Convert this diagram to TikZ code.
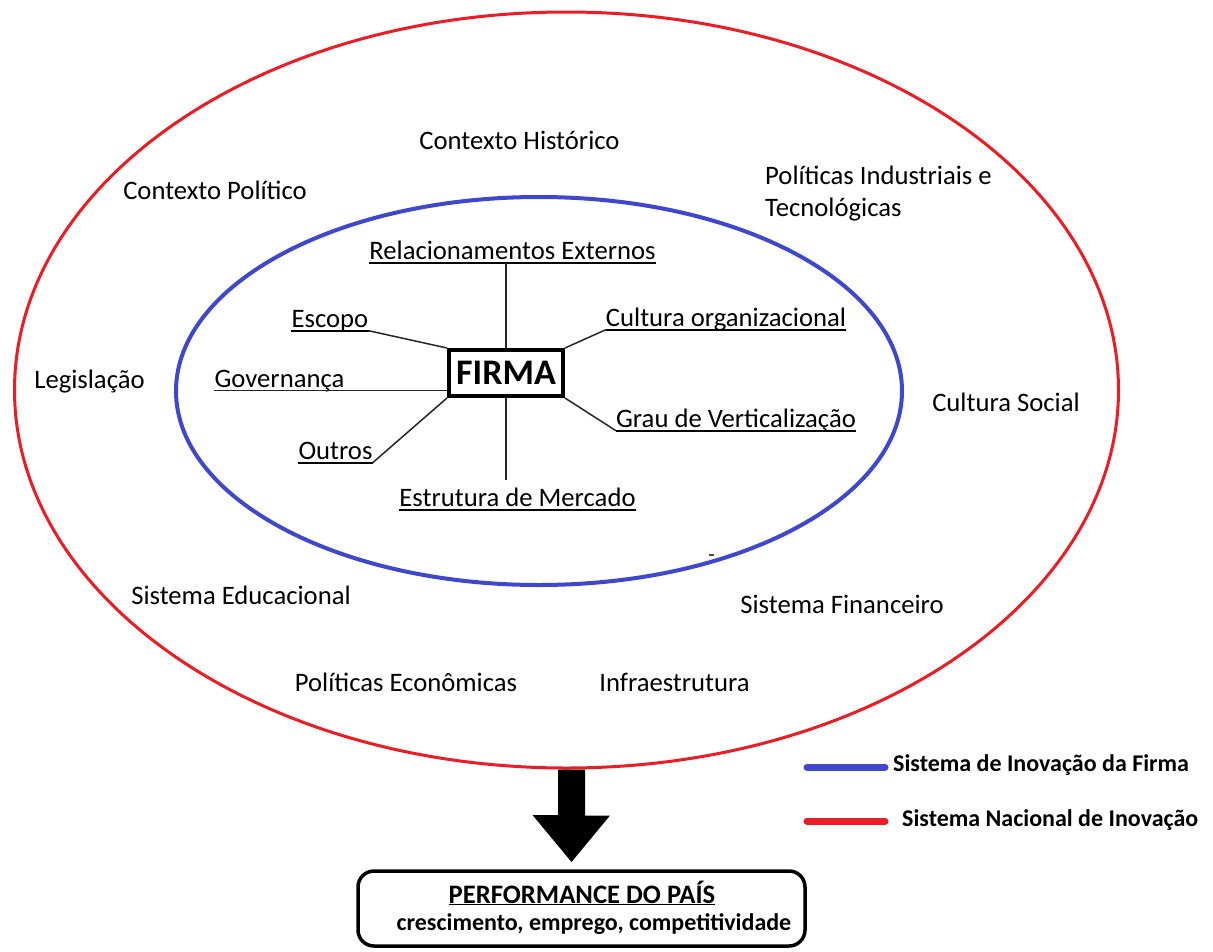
\documentclass[tikz,border=0pt]{standalone}
\usepackage{fontspec}
\setmainfont{Carlito}
\usetikzlibrary{shapes.geometric,calc}
\definecolor{redc}{RGB}{237,28,36}
\definecolor{bluec}{RGB}{63,72,204}
\tikzset{
  lbl/.style={inner sep=0pt, text height=17pt, text depth=0pt, font=\fontsize{26.67}{32}\selectfont},
  ullbl/.style={lbl},
  conn/.style={draw=black!85, line width=1.5pt},
  ulline/.style={draw=black, line width=1.6pt},
  ring/.style={ellipse, draw, inner sep=0pt},
  legtxt/.style={inner sep=0pt, anchor=west, font=\fontsize{24}{28}\selectfont\bfseries},
  legline/.style={line width=7pt, line cap=round}
}
\begin{document}
\begin{tikzpicture}[x=1pt,y=-1pt]
\fill[white] (0,0) rectangle (1213,951);
\useasboundingbox (0,0) rectangle (1213,951);

% rings
\node[ring, draw=redc, line width=3pt, minimum width=1104pt, minimum height=756pt] (redE) at (566.5,390) {};
\node[ring, draw=bluec, line width=4pt, minimum width=726pt, minimum height=388pt] (blueE) at (539,391) {};

% outer labels
\node[lbl] (hist) at (519.5,141) {Contexto Histórico};
\node[lbl] (pol) at (215,191) {Contexto Político};
\node[inner sep=0pt, anchor=north west, align=left, font=\fontsize{26.67}{32}\selectfont] (polind) at (765,166) {Políticas Industriais e\\Tecnológicas};
\node[lbl] (leg) at (89.5,380) {Legislação};
\node[lbl] (cultsoc) at (1006,403) {Cultura Social};
\node[lbl] (educ) at (241,596) {Sistema Educacional};
\node[lbl] (fin) at (842,605) {Sistema Financeiro};
\node[lbl] (econ) at (406,683) {Políticas Econômicas};
\node[lbl] (infra) at (674.5,683) {Infraestrutura};

% firm
\node[draw, line width=4pt, minimum width=114pt, minimum height=46pt, inner sep=0pt,
      font=\fontsize{36}{40}\selectfont\bfseries] (firma) at (506,373) {FIRMA};

% inner labels
\node[ullbl] (relext) at (512.5,251) {Relacionamentos Externos};
\node[ullbl] (escopo) at (330,319) {Escopo};
\node[ullbl] (cultorg) at (726,318) {Cultura organizacional};
\node[ullbl] (gov) at (279.5,379) {Governança};
\node[ullbl] (grau) at (736,419) {Grau de Verticalização};
\node[ullbl] (outros) at (335.5,451) {Outros};
\node[ullbl] (estrut) at (517.5,498) {Estrutura de Mercado};

\foreach \n in {relext,escopo,cultorg,grau,outros,estrut}{
  \draw[ulline] ([yshift=-3pt]\n.south west) -- ([yshift=-3pt]\n.south east);
}

% connectors
\draw[conn] (firma.north) -- ([yshift=-3pt]firma.north |- relext.south);
\draw[conn] (firma.south) -- ([yshift=9pt]firma.south |- estrut.north);
\draw[conn] ([yshift=-3pt]escopo.south east) -- (firma.north west);
\draw[conn] ([yshift=-3pt]cultorg.south west) -- (firma.north east);
\draw[conn] ([yshift=-3pt]gov.south west) -- ([yshift=-3pt]gov.south west -| firma.west);
\draw[conn] (firma.south east) -- ([yshift=-3pt]grau.south west);
\draw[conn] (firma.south west) -- ([yshift=-3pt]outros.south east);

% small stray mark
\coordinate (dasha) at (709,555);
\coordinate (dashb) at (714,555);
\draw[black!70, line width=1.2pt] (dasha) -- (dashb);

% big arrow
\coordinate (atop) at (redE.south -| 571.5,0);
\coordinate (atip) at (571.5,862);
\fill[black] (atop) ++(-13.5,0) -- ++(27,0) -- ++(0,46) -- ++(25,0) -- (atip) -- ++(-39,-47) -- ++(25.5,0) -- cycle;

% performance box
\node[draw, line width=3.5pt, rounded corners=16pt, minimum width=447pt, minimum height=75pt,
      inner sep=0pt] (perf) at (581.5,908.5) {};
\node[inner sep=0pt, anchor=base, font=\fontsize{26.67}{30}\selectfont\bfseries] (perft) at (582,903) {\underline{PERFORMANCE DO PAÍS}};
\node[inner sep=0pt, anchor=base, font=\fontsize{24}{28}\selectfont\bfseries] (perfs) at (594,930) {crescimento, emprego, competitividade};

% legend
\coordinate (l1a) at (807,767);
\coordinate (l1b) at (885,767);
\coordinate (l2a) at (807,821);
\coordinate (l2b) at (885,821);
\draw[legline, draw=bluec] (l1a) -- (l1b);
\draw[legline, draw=redc] (l2a) -- (l2b);
\node[legtxt] (legfirm) at (893,765) {Sistema de Inovação da Firma};
\node[legtxt] (legnac) at (902,820) {Sistema Nacional de Inovação};
\end{tikzpicture}
\end{document}
